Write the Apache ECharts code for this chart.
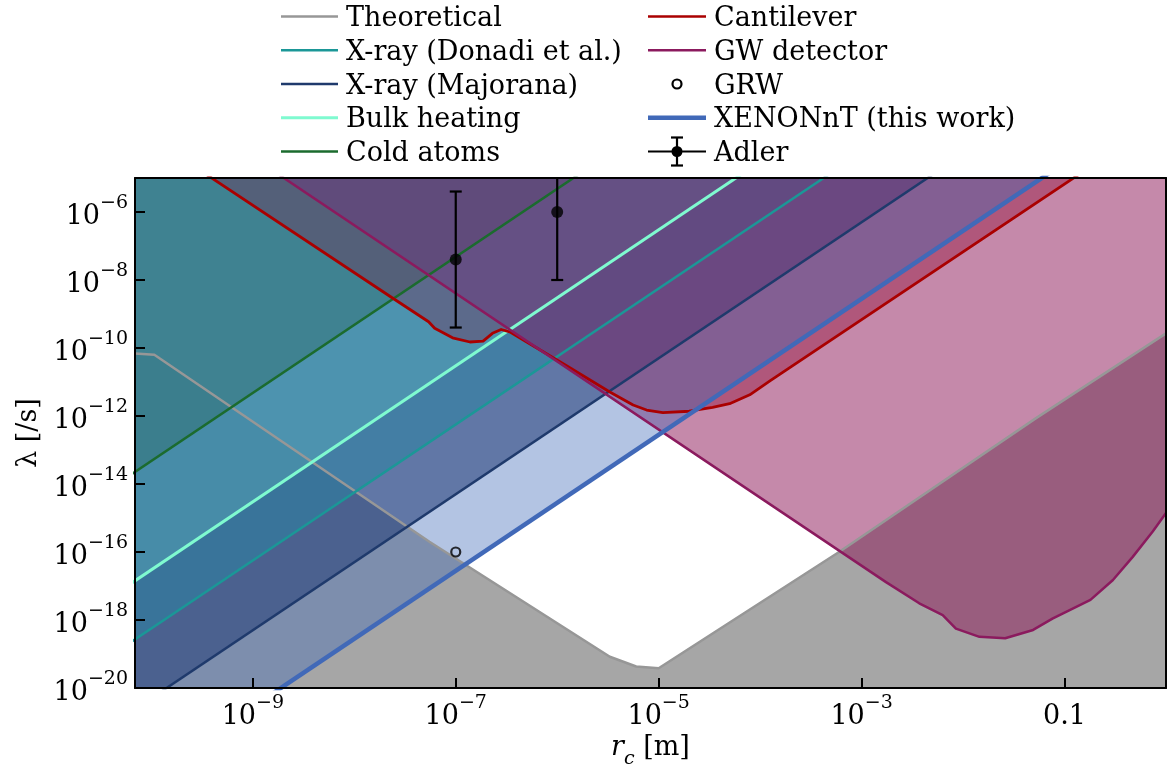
<!DOCTYPE html>
<html>
<head>
<meta charset="utf-8">
<script src="https://cdn.jsdelivr.net/npm/echarts@6/dist/echarts.min.js"></script>
<style>
  html, body { margin: 0; padding: 0; background: #ffffff; }
  #chart { width: 1171px; height: 769px; }
</style>
</head>
<body>
<div id="chart"></div>
<script>
// Axis ranges and tick positions (log-log: collapse rate vs. correlation length)
const xRange = [6.9e-11, 1];
const yRange = [1e-20, 1e-5];
const xTickValues = [1e-9, 1e-7, 1e-5, 1e-3, 0.1];
const yTickValues = [1e-20, 1e-18, 1e-16, 1e-14, 1e-12, 1e-10, 1e-8, 1e-6];

// Theoretical lower bound (excluded below)
const theoryX = [6.9e-11, 1.07e-10, 5.5e-8, 3.3e-6, 6.0e-6, 1.0e-5, 6.0e-4, 5.2e-2, 1];
const theoryY = [6.9e-11, 6.3e-11, 2.0e-16, 8.3e-20, 4.3e-20, 3.8e-20, 1.0e-16, 8.5e-13, 2.7e-10];

// Straight upper bounds (excluded above)
const boundX = [1e-11, 1];
const donadiY = [5.6e-21, 56];
const majoranaY = [5.0e-23, 0.5];
const bulkY = [3.0e-19, 3.0e3];
const coldY = [4.8e-16, 4.8e6];
const xenonY = [2.8e-25, 2.8e-3];

// Cantilever bound
const cantX = [3.5e-10, 2.4e-8, 5.4e-8, 6.2e-8, 9.3e-8, 1.38e-7, 1.86e-7, 2.3e-7, 2.8e-7, 3.4e-7, 4.6e-7,
               1.26e-6, 3.3e-6, 5.6e-6, 7.6e-6, 1.1e-5, 2.0e-5, 3.4e-5, 5.0e-5, 7.9e-5, 1.26e-4, 0.14];
const cantY = [1.26e-5, 2.9e-9, 5.9e-10, 3.8e-10, 2.0e-10, 1.5e-10, 1.6e-10, 2.7e-10, 3.5e-10, 3.0e-10, 1.74e-10,
               2.9e-11, 5.1e-12, 2.1e-12, 1.5e-12, 1.26e-12, 1.38e-12, 1.8e-12, 2.3e-12, 4.2e-12, 1.1e-11, 1.3e-5];

// Gravitational-wave detector bound
const gwX = [1.6e-9, 1.74e-3, 3.7e-3, 6.3e-3, 8.5e-3, 0.0145, 0.026, 0.049, 0.076, 0.18, 0.30, 0.47, 0.74, 1.0];
const gwY = [1.6e-5, 1.3e-17, 3.1e-18, 1.4e-18, 5.6e-19, 3.2e-19, 2.9e-19, 5.1e-19, 1.1e-18, 3.9e-18, 1.5e-17, 7.2e-17, 4.0e-16, 1.4e-15];

// Proposed parameter values
const grwX = [1e-7];
const grwY = [1e-16];
const adlerX = [1e-7, 1e-6];
const adlerY = [4e-8, 1e-6];
const adlerLow = [4e-10, 1e-8];
const adlerHigh = [4e-6, 1e-4];

// Legend labels (two columns)
const legendLeft = ['Theoretical', 'X-ray (Donadi et al.)', 'X-ray (Majorana)', 'Bulk heating', 'Cold atoms'];
const legendRight = ['Cantilever', 'GW detector', 'GRW', 'XENONnT (this work)', 'Adler'];

const FONT = 'DejaVu Serif';
const pairs = (xs, ys) => xs.map((x, i) => [x, ys[i]]);

const colors = {
  theory: '#979797', theoryFill: 'rgb(166,166,166)',
  donadi: '#1b9797', donadiFill: 'rgba(30,150,150,0.55)',
  majorana: '#1f3a6c', majoranaFill: 'rgba(20,35,80,0.58)',
  bulk: '#7ffad0', bulkFill: 'rgba(127,255,212,0.3)',
  cold: '#1b6b2e', coldFill: 'rgba(27,100,40,0.38)',
  cant: '#aa0000', cantFill: 'rgba(150,5,20,0.4)',
  gw: '#8b1a5e', gwFill: 'rgba(140,20,85,0.5)',
  xenon: '#4169b8', xenonFill: 'rgba(66,107,184,0.4)'
};

function fillSeries(data, color, origin) {
  return {
    type: 'line', data: data, symbol: 'none', silent: true, z: 2,
    lineStyle: { width: 0, opacity: 0 },
    areaStyle: { color: color, opacity: 1, origin: origin }
  };
}
function lineSeries(data, color, width) {
  return {
    type: 'line', data: data, symbol: 'none', silent: true, z: 3,
    lineStyle: { width: width, color: color, cap: 'butt', join: 'round' }
  };
}

function powerLabel(v) {
  const n = Math.round(Math.log10(v));
  if (n === -1) return '{b|0.1}';
  return '{b|10}{s|' + (n < 0 ? '\u2212' : '') + Math.abs(n) + '}';
}
const tickRich = {
  b: { fontFamily: FONT, fontSize: 27, color: '#000', lineHeight: 36, verticalAlign: 'bottom' },
  s: { fontFamily: FONT, fontSize: 19, color: '#000', lineHeight: 20, verticalAlign: 'top' }
};

const frameLine = { show: true, onZero: false, lineStyle: { color: '#000', width: 2 } };

// Legend drawn as graphic elements
const rowY = [19, 52.8, 86.5, 120.2, 154];
const legendStyles = {
  'Theoretical': { kind: 'line', color: colors.theory, width: 2.5 },
  'X-ray (Donadi et al.)': { kind: 'line', color: colors.donadi, width: 2.5 },
  'X-ray (Majorana)': { kind: 'line', color: colors.majorana, width: 2.5 },
  'Bulk heating': { kind: 'line', color: colors.bulk, width: 3 },
  'Cold atoms': { kind: 'line', color: colors.cold, width: 2.5 },
  'Cantilever': { kind: 'line', color: colors.cant, width: 2.5 },
  'GW detector': { kind: 'line', color: colors.gw, width: 2.5 },
  'GRW': { kind: 'circle' },
  'XENONnT (this work)': { kind: 'line', color: colors.xenon, width: 4.5 },
  'Adler': { kind: 'errorbar' }
};
function legendEntry(name, x0, x1, tx, y) {
  const st = legendStyles[name];
  const els = [];
  const mid = (x0 + x1) / 2;
  const ly = y - 2.5;
  if (st.kind === 'line') {
    els.push({ type: 'line', shape: { x1: x0, y1: ly, x2: x1, y2: ly }, style: { stroke: st.color, lineWidth: st.width } });
  } else if (st.kind === 'circle') {
    els.push({ type: 'circle', shape: { cx: mid, cy: ly, r: 4.5 }, style: { fill: 'none', stroke: '#000', lineWidth: 2.2 } });
  } else {
    els.push({ type: 'line', shape: { x1: x0, y1: ly, x2: x1, y2: ly }, style: { stroke: '#000', lineWidth: 2.2 } });
    els.push({ type: 'line', shape: { x1: mid, y1: ly - 14, x2: mid, y2: ly + 14 }, style: { stroke: '#000', lineWidth: 2.2 } });
    els.push({ type: 'line', shape: { x1: mid - 6, y1: ly - 14, x2: mid + 6, y2: ly - 14 }, style: { stroke: '#000', lineWidth: 2.2 } });
    els.push({ type: 'line', shape: { x1: mid - 6, y1: ly + 14, x2: mid + 6, y2: ly + 14 }, style: { stroke: '#000', lineWidth: 2.2 } });
    els.push({ type: 'circle', shape: { cx: mid, cy: ly, r: 5.5 }, style: { fill: '#000' } });
  }
  els.push({ type: 'text', x: tx, y: y, style: { text: name, fontFamily: FONT, fontSize: 27, fill: '#000', verticalAlign: 'middle', align: 'left' } });
  return els;
}
const legendChildren = [];
legendLeft.forEach((n, i) => legendChildren.push(...legendEntry(n, 281, 338, 346, rowY[i])));
legendRight.forEach((n, i) => legendChildren.push(...legendEntry(n, 648, 706, 714, rowY[i])));

const chart = echarts.init(document.getElementById('chart'), null, { renderer: 'canvas' });
chart.setOption({
  animation: false,
  backgroundColor: '#ffffff',
  grid: { left: 135, right: 5, top: 178, bottom: 81, containLabel: false, outerBoundsMode: 'none' },
  xAxis: [{
    type: 'log', logBase: 10, min: xRange[0], max: xRange[1], z: 10,
    axisLine: frameLine,
    axisTick: { show: true, inside: true, length: 10, lineStyle: { color: '#000', width: 2 }, customValues: xTickValues },
    axisLabel: { customValues: xTickValues, formatter: powerLabel, rich: tickRich, margin: 6, hideOverlap: false },
    splitLine: { show: false }, minorTick: { show: false },
    name: '{i|r}{sub|c}{t| [m]}', nameLocation: 'middle', nameGap: 42,
    nameTextStyle: {
      rich: {
        i: { fontFamily: FONT, fontStyle: 'italic', fontSize: 27, color: '#000', lineHeight: 34, verticalAlign: 'top' },
        sub: { fontFamily: FONT, fontStyle: 'italic', fontSize: 19, color: '#000', lineHeight: 20, verticalAlign: 'bottom' },
        t: { fontFamily: FONT, fontSize: 27, color: '#000', lineHeight: 34, verticalAlign: 'top' }
      }
    }
  }, {
    type: 'log', logBase: 10, min: xRange[0], max: xRange[1], position: 'top', z: 10,
    axisLine: frameLine, axisTick: { show: false }, axisLabel: { show: false }, splitLine: { show: false }
  }],
  yAxis: [{
    type: 'log', logBase: 10, min: yRange[0], max: yRange[1], z: 10,
    axisLine: frameLine,
    axisTick: { show: true, inside: true, length: 10, lineStyle: { color: '#000', width: 2 }, customValues: yTickValues },
    axisLabel: {
      customValues: yTickValues, formatter: powerLabel, rich: tickRich, margin: 7, hideOverlap: false,
      verticalAlign: 'middle', verticalAlignMinLabel: 'middle', verticalAlignMaxLabel: 'middle'
    },
    splitLine: { show: false }, minorTick: { show: false },
    name: '\u03bb [/s]', nameLocation: 'middle', nameGap: 88, nameRotate: 90,
    nameTextStyle: { fontFamily: FONT, fontSize: 27, color: '#000' }
  }, {
    type: 'log', logBase: 10, min: yRange[0], max: yRange[1], position: 'right', z: 10,
    axisLine: frameLine, axisTick: { show: false }, axisLabel: { show: false }, splitLine: { show: false }
  }],
  graphic: [{ type: 'group', silent: true, children: legendChildren }],
  series: [
    // excluded regions
    fillSeries(pairs(theoryX, theoryY), colors.theoryFill, 'start'),
    fillSeries(pairs(boundX, majoranaY), colors.majoranaFill, 'end'),
    fillSeries(pairs(boundX, donadiY), colors.donadiFill, 'end'),
    fillSeries(pairs(boundX, bulkY), colors.bulkFill, 'end'),
    fillSeries(pairs(boundX, coldY), colors.coldFill, 'end'),
    fillSeries(pairs(cantX, cantY), colors.cantFill, 'end'),
    fillSeries(pairs(gwX, gwY), colors.gwFill, 'end'),
    fillSeries(pairs(boundX, xenonY), colors.xenonFill, 'end'),
    // boundary curves
    lineSeries(pairs(theoryX, theoryY), colors.theory, 2.5),
    lineSeries(pairs(boundX, donadiY), colors.donadi, 2.5),
    lineSeries(pairs(boundX, majoranaY), colors.majorana, 2.5),
    lineSeries(pairs(boundX, bulkY), colors.bulk, 3),
    lineSeries(pairs(boundX, coldY), colors.cold, 2.5),
    lineSeries(pairs(cantX, cantY), colors.cant, 2.8),
    lineSeries(pairs(gwX, gwY), colors.gw, 2.5),
    lineSeries(pairs(boundX, xenonY), colors.xenon, 4.5),
    // GRW point
    {
      type: 'scatter', name: 'GRW', data: pairs(grwX, grwY), z: 4, silent: true,
      symbol: 'circle', symbolSize: 9,
      itemStyle: { color: 'rgba(0,0,0,0)', borderColor: '#000', borderWidth: 2.2 }
    },
    // Adler error bars
    {
      type: 'custom', name: 'Adler', z: 4, silent: true, clip: true,
      data: adlerX.map((x, i) => [x, adlerLow[i], adlerHigh[i]]),
      encode: { x: 0, y: [1, 2] },
      renderItem: function (params, api) {
        const lo = api.coord([api.value(0), api.value(1)]);
        const hi = api.coord([api.value(0), api.value(2)]);
        const cap = 6;
        const st = { stroke: '#000', lineWidth: 2.2 };
        return {
          type: 'group', children: [
            { type: 'line', shape: { x1: lo[0], y1: lo[1], x2: hi[0], y2: hi[1] }, style: st },
            { type: 'line', shape: { x1: lo[0] - cap, y1: lo[1], x2: lo[0] + cap, y2: lo[1] }, style: st },
            { type: 'line', shape: { x1: hi[0] - cap, y1: hi[1], x2: hi[0] + cap, y2: hi[1] }, style: st }
          ]
        };
      }
    },
    {
      type: 'scatter', name: 'Adler', data: pairs(adlerX, adlerY), z: 5, silent: true,
      symbol: 'circle', symbolSize: 12, itemStyle: { color: '#000' }
    }
  ]
});
</script>
</body>
</html>
